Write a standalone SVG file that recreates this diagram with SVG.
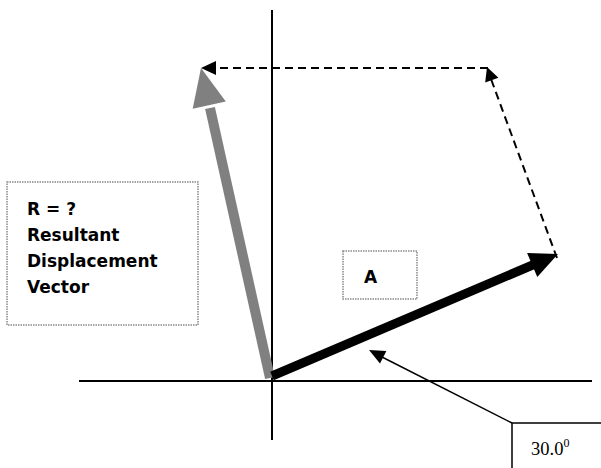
<svg xmlns="http://www.w3.org/2000/svg" width="601" height="468" viewBox="0 0 601 468">
<style>
.axis{stroke:#000;stroke-width:2;fill:none}
.dotbox{fill:#fff;stroke:#888;stroke-width:1.5;stroke-dasharray:1.5 1}
.dash{stroke:#000;stroke-width:2;stroke-dasharray:8 5;fill:none}
.lbl{font-family:"DejaVu Sans",sans-serif;font-weight:bold;font-size:17px;fill:#000}
.tm{font-family:"Liberation Serif",serif;font-size:18.5px;fill:#000}
</style>
<rect width="601" height="468" fill="#fff"/>
<g id="axes">
<line class="axis" x1="272" y1="10" x2="272" y2="440"/>
<line class="axis" x1="79" y1="381" x2="592" y2="381"/>
</g>
<g id="R-box">
<rect class="dotbox" x="7" y="182" width="191" height="143"/>
<text class="lbl" x="27" y="215">R = ?</text>
<text class="lbl" x="27" y="241">Resultant</text>
<text class="lbl" x="27" y="267">Displacement</text>
<text class="lbl" x="27" y="293">Vector</text>
</g>
<g id="A-box">
<rect class="dotbox" x="343" y="251" width="74" height="48"/>
<text class="lbl" x="364" y="283">A</text>
</g>
<g id="angle-box">
<polyline points="512,468 512,423 601,423" fill="none" stroke="#000" stroke-width="1.5"/>
<text class="tm" x="531" y="455">30.0<tspan font-size="12" dy="-8">0</tspan></text>
</g>
<g id="connectors">
<line x1="270" y1="378" x2="210" y2="108" stroke="#808080" stroke-width="10"/>
<polygon points="201,68 225.8,101.4 192.7,108.8" fill="#808080"/>
<line x1="272" y1="376" x2="535" y2="264" stroke="#000" stroke-width="9"/>
<polygon points="558,254 537.3,277 527.1,253" fill="#000"/>
<line class="dash" x1="488" y1="68" x2="213" y2="68"/>
<polygon points="201,68 216,61 216,75" fill="#000"/>
<line class="dash" x1="557" y1="258" x2="491" y2="79"/>
<polygon points="487,67 498.4,77.7 485.2,82.5" fill="#000"/>
<line x1="512" y1="423" x2="382" y2="357" stroke="#000" stroke-width="1.5"/>
<polygon points="369,350 386.4,351.1 380,363.5" fill="#000"/>
</g>
</svg>
